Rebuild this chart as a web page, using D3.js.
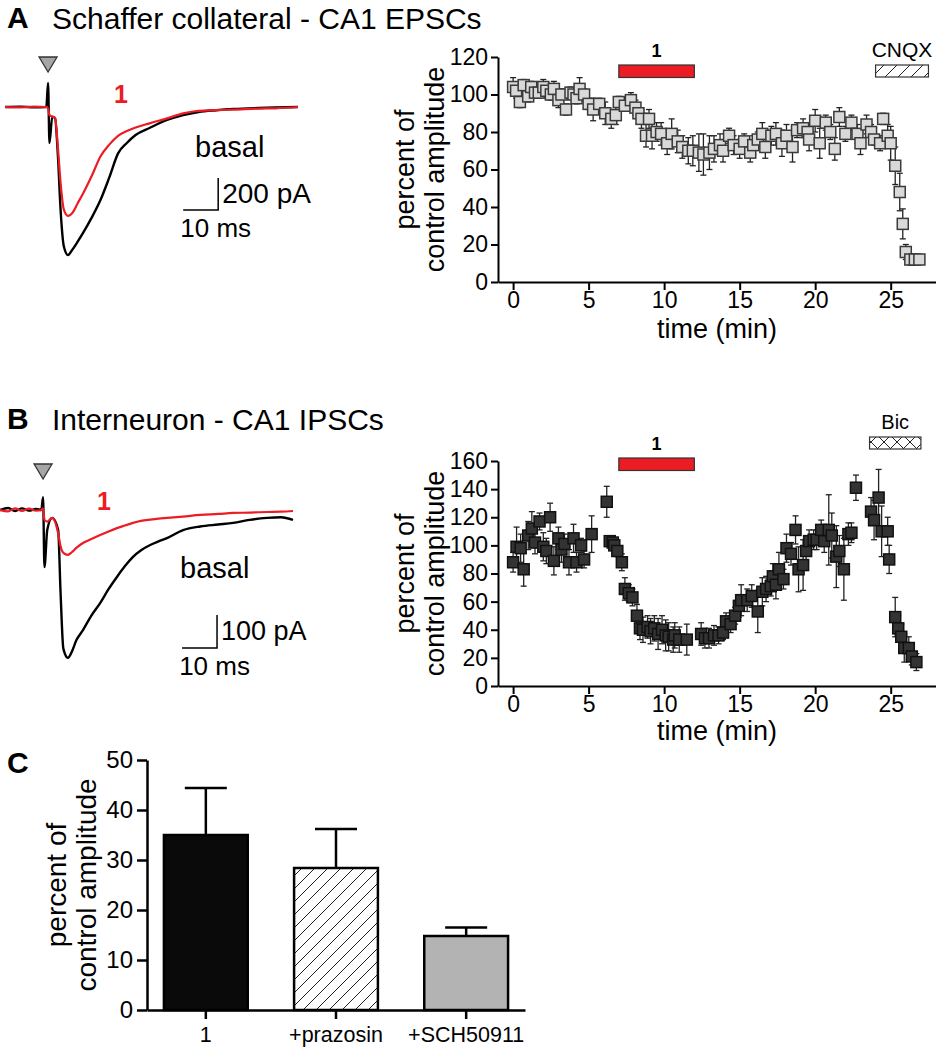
<!DOCTYPE html>
<html><head><meta charset="utf-8">
<script src="https://cdn.jsdelivr.net/npm/d3@7/dist/d3.min.js"></script>
<style>
body{margin:0;background:#fff}
svg{display:block}
text{font-family:"Liberation Sans",Arial,Helvetica,sans-serif}
</style>
</head><body>
<svg id="fig" width="936" height="1050"></svg>
<script>
// ---------------- DATA ----------------
// Panel A time course (min, % of control, error)
const timeA = [0.0,0.2,0.45,0.7,1.0,1.2,1.45,1.7,2.0,2.2,2.5,2.7,3.0,3.2,3.5,3.8,4.0,4.2,4.4,4.7,5.0,5.3,5.7,6.1,6.5,6.8,7.0,7.4,7.8,8.1,8.3,8.5,8.8,9.0,9.2,9.5,9.8,10.2,10.5,10.9,11.2,11.6,11.9,12.3,12.6,13.0,13.3,13.7,13.9,14.3,14.6,15.0,15.3,15.7,15.9,16.2,16.5,16.7,17.1,17.4,17.8,18.1,18.5,18.8,19.2,19.5,19.6,20.0,20.3,20.7,21.0,21.3,21.6,22.0,22.4,22.8,23.0,23.4,23.7,23.9,24.3,24.5,24.8,25.0,25.3,25.6,25.8,26.0,26.3,26.6,26.9];
const pctA  = [104,102,96,105,99,104,101,101,104,102,100,103,97,100,92,101,100,98,103,100,95,92,95,90,87,89,96,94,97,93,90,87,78,87,78,80,79,74,79,75,72,70,70,69,68,69,71,73,70,78,73,71,75,69,73,76,79,72,78,79,74,78,72,81,82,80,76,86,74,85,80,71,88,79,85,79,74,84,80,76,74,87,78,74,62,48,31,16,12,12,12];
const errA  = [5,4,3,3,3,3,3,3,4,3,3,4,4,3,3,3,3,3,6,3,3,6,3,6,5,5,3,3,4,4,3,5,6,5,7,5,6,6,8,6,6,7,8,10,11,9,7,6,6,4,5,5,4,5,5,4,6,6,5,6,7,6,8,4,5,4,6,6,8,4,4,6,5,4,4,5,6,5,4,3,4,3,6,9,10,10,8,4,3,3,2];

// Panel B time course
const timeB = [0.0,0.23,0.5,0.7,1.0,1.24,1.45,1.75,2.0,2.2,2.45,2.7,3.0,3.2,3.4,3.7,4.0,4.2,4.5,4.7,5.2,6.2,6.4,6.6,6.7,6.9,7.2,7.4,7.66,7.9,8.2,8.4,8.6,8.9,9.1,9.35,9.6,9.86,10.1,10.3,10.6,10.7,11.0,11.5,12.45,12.7,12.97,13.3,13.6,13.9,14.1,14.4,14.7,14.95,15.1,15.5,15.8,16.2,16.5,16.75,17.06,17.2,17.4,17.6,17.9,18.1,18.4,18.7,18.9,19.2,19.4,19.6,19.9,20.1,20.4,20.6,20.9,21.1,21.4,21.6,21.9,22.2,22.4,22.7,23.7,23.9,24.2,24.4,24.8,24.9,25.3,25.5,25.7,25.9,26.2,26.4,26.7];
const pctB  = [88,99,98,83,107,112,102,117,99,96,120,89,105,97,101,88,105,88,100,90,108,131,103,102,100,96,88,69,66,63,50,41,40,42,39,41,37,40,36,35,33,36,33,33,37,34,34,36,36,38,46,44,50,57,61,61,64,53,67,69,71,78,72,83,76,98,94,111,83,86,96,103,104,104,111,103,111,107,92,96,83,108,109,141,124,118,134,110,110,90,49,41,35,27,27,21,17];
const errB  = [7,14,10,12,10,12,8,6,10,9,10,10,8,9,7,9,10,7,5,6,13,11,3,3,3,4,6,8,6,6,8,8,9,8,9,9,11,10,11,10,9,9,9,11,8,7,7,7,6,5,6,6,6,8,11,8,8,15,10,9,7,9,10,12,7,10,8,10,16,18,8,8,7,7,7,8,25,16,22,11,22,8,7,9,10,14,20,18,10,10,14,9,9,10,8,6,6];

// Treatment bars (min)
const drugBar = [7, 12];
const cnqxBar = [24, 27.5];
const bicBar  = [23.6, 27.0];

// Panel A traces (ms, pA)
const traceAms    = [-12.3,-8,-4,-0.5,0,0.4,1.2,2.0,2.8,3.6,4.5,5.7,7,8.5,10,12.5,15,17.5,20,22.5,25,29,34,38.6,43,48,53,60,65,71.4];
const traceAbasal = [0,2,-2,0,150,-225,-60,-69,-300,-650,-870,-925,-890,-840,-787,-690,-580,-440,-290,-225,-175,-131,-81,-50,-31,-20,-12,-6,-3,0];
const traceAdrug  = [0,-2,2,0,-10,-50,-60,-69,-250,-480,-640,-681,-660,-600,-540,-430,-308,-235,-180,-150,-128,-102,-71,-40,-24,-20,-17,-10,-8,0];
const scaleBarA   = {ms:[38.6,48.6], pA:[-644,-444]};

// Panel B traces (ms, pA)
const traceBms    = [-12.3,-10,-8,-6,-4,-2,-0.5,0,0.4,1.2,2.6,4.3,5.0,5.8,7.1,8.2,9.5,11.4,13.8,16.3,18.7,21.1,23.4,25.7,28,30.6,33,35.4,40,44.9,50,54.3,59,64,68,71.4];
const traceBbasal = [0,6,-3,5,-2,3,0,39,-173,-60,-24,-60,-250,-420,-448,-430,-395,-364,-320,-282,-240,-203,-170,-142,-122,-106,-95,-85,-61,-50,-44,-39,-30,-24,-22,-30];
const traceBdrug  = [0,-4,5,-3,4,-2,0,5,-30,-35,-24,-70,-110,-130,-136,-128,-115,-100,-88,-76,-65,-55,-47,-39,-33,-29,-26,-24,-20,-15,-12,-9,-8,-6,-5,-3];
const scaleBarB   = {ms:[39.7,49.7], pA:[-418,-318]};

// Panel C
const catsC = ["1","+prazosin","+SCH50911"];
const meanC = [35, 28.4, 14.8];
const semC  = [9.4, 7.8, 1.7];

// Tick values
const xTicksMajor = [0,5,10,15,20,25];
const xTicksMinor = [0,1,2,3,4,5,6,7,8,9,10,11,12,13,14,15,16,17,18,19,20,21,22,23,24,25,26,27];
const yTicksA = [0,20,40,60,80,100,120];
const yTicksAminor = [10,30,50,70,90,110];
const yTicksB = [0,20,40,60,80,100,120,140,160];
const yTicksBminor = [10,30,50,70,90,110,130,150];
const yTicksC = [0,10,20,30,40,50];
const yTicksCminor = [5,15,25,35,45];

// ---------------- DRAW ----------------
const RED = "#ec1c24";
const svg = d3.select("#fig");
const defs = svg.append("defs");
const diag = defs.append("pattern").attr("id","diag").attr("patternUnits","userSpaceOnUse").attr("width",13).attr("height",13);
diag.append("rect").attr("width",13).attr("height",13).attr("fill","#fff");
diag.append("path").attr("d","M-2,2 L2,-2 M0,13 L13,0 M11,15 L15,11").attr("stroke","#222").attr("stroke-width",1);
const cross = defs.append("pattern").attr("id","cross").attr("patternUnits","userSpaceOnUse").attr("width",13).attr("height",13);
cross.append("rect").attr("width",13).attr("height",13).attr("fill","#fff");
cross.append("path").attr("d","M0,0 L13,13 M0,13 L13,0").attr("stroke","#222").attr("stroke-width",1);

function styleAxis(g, fs){
  g.selectAll("path.domain").attr("stroke","#000").attr("stroke-width",2);
  g.selectAll(".tick line").attr("stroke","#000").attr("stroke-width",2);
  g.selectAll(".tick text").attr("fill","#000").style("font-size",fs+"px").style("font-family",'"Liberation Sans",Arial,sans-serif');
}

function scatterPanel(o){
  const x = d3.scaleLinear().domain([-1,28]).range([498,936]);
  const y = d3.scaleLinear().domain(o.ydom).range(o.yrange);
  const g = svg.append("g");
  const gx = g.append("g").attr("transform",`translate(0,${o.yrange[0]})`);
  gx.call(d3.axisBottom(x).tickValues(xTicksMinor).tickSize(4).tickSizeOuter(0).tickFormat(""));
  gx.call(d3.axisBottom(x).tickValues(xTicksMajor).tickSize(8).tickPadding(2).tickSizeOuter(0));
  styleAxis(gx,23);
  const gy = g.append("g").attr("transform","translate(498,0)");
  gy.call(d3.axisLeft(y).tickValues(o.yminor).tickSize(4).tickSizeOuter(0).tickFormat(""));
  gy.call(d3.axisLeft(y).tickValues(o.ymajor).tickSize(7).tickPadding(3).tickSizeOuter(0));
  styleAxis(gy,23);
  g.append("text").attr("x",717).attr("y",o.xlabY).attr("text-anchor","middle").style("font-size","27px").text("time (min)");
  const cy = (o.yrange[0]+o.yrange[1])/2;
  g.append("text").attr("transform",`translate(414,${cy}) rotate(-90)`).attr("text-anchor","middle").style("font-size","27px").text("percent of");
  g.append("text").attr("transform",`translate(444,${cy}) rotate(-90)`).attr("text-anchor","middle").style("font-size","27px").text("control amplitude");
  g.append("rect").attr("x",x(drugBar[0])).attr("y",o.redY).attr("width",x(drugBar[1])-x(drugBar[0])).attr("height",12.5)
    .attr("fill",RED).attr("stroke","#333").attr("stroke-width",1.2);
  g.append("text").attr("x",(x(drugBar[0])+x(drugBar[1]))/2).attr("y",o.redY-8).attr("text-anchor","middle")
    .style("font-size","18px").style("font-weight","bold").text("1");
  g.append("rect").attr("x",x(o.ant[0])).attr("y",o.antY).attr("width",x(o.ant[1])-x(o.ant[0])).attr("height",12)
    .attr("fill",`url(#${o.antPat})`).attr("stroke","#333").attr("stroke-width",1.2);
  g.append("text").attr("x",(x(o.ant[0])+x(o.ant[1]))/2).attr("y",o.antY-8).attr("text-anchor","middle")
    .style("font-size",o.antFs+"px").text(o.antLabel);
  const data = o.t.map((t,i)=>({t, v:o.v[i], e:o.e[i]}));
  const eb = g.append("g").attr("stroke","#222").attr("stroke-width",1.3);
  eb.selectAll("line.v").data(data).join("line").attr("class","v")
    .attr("x1",d=>x(d.t)).attr("x2",d=>x(d.t)).attr("y1",d=>y(d.v-d.e)).attr("y2",d=>y(d.v+d.e));
  eb.selectAll("line.t").data(data).join("line").attr("class","t")
    .attr("x1",d=>x(d.t)-3).attr("x2",d=>x(d.t)+3).attr("y1",d=>y(d.v+d.e)).attr("y2",d=>y(d.v+d.e));
  eb.selectAll("line.b").data(data).join("line").attr("class","b")
    .attr("x1",d=>x(d.t)-3).attr("x2",d=>x(d.t)+3).attr("y1",d=>y(d.v-d.e)).attr("y2",d=>y(d.v-d.e));
  g.append("g").selectAll("rect").data(data).join("rect")
    .attr("x",d=>x(d.t)-5.5).attr("y",d=>y(d.v)-5.5).attr("width",11).attr("height",11)
    .attr("fill",o.fill).attr("stroke",o.stroke).attr("stroke-width",1.5);
}

scatterPanel({t:timeA,v:pctA,e:errA,ydom:[0,120],yrange:[282,57],ymajor:yTicksA,yminor:yTicksAminor,
  xlabY:338,redY:65,ant:cnqxBar,antY:65,antPat:"diag",antLabel:"CNQX",antFs:21,fill:"#d9d9d9",stroke:"#3a3a3a"});
scatterPanel({t:timeB,v:pctB,e:errB,ydom:[0,160],yrange:[686,461],ymajor:yTicksB,yminor:yTicksBminor,
  xlabY:740,redY:458,ant:bicBar,antY:437,antPat:"cross",antLabel:"Bic",antFs:20,fill:"#333333",stroke:"#111"});

function tracePanel(o){
  const tx = d3.scaleLinear().domain([-12.3,71.4]).range(o.xr);
  const ty = d3.scaleLinear().domain([0,-100]).range([o.y0,o.y0+o.pxPer100]);
  const g = svg.append("g");
  const line = d3.line().x(d=>tx(d[0])).y(d=>ty(d[1])).curve(d3.curveMonotoneX);
  g.append("path").attr("d",line(o.t.map((t,i)=>[t,o.basal[i]]))).attr("fill","none").attr("stroke","#000").attr("stroke-width",2.4);
  g.append("path").attr("d",line(o.t.map((t,i)=>[t,o.drug[i]]))).attr("fill","none").attr("stroke",RED).attr("stroke-width",2.2);
  const cx = tx(0);
  g.append("path").attr("d",`M${cx-9},${o.triY} L${cx+9},${o.triY} L${cx},${o.triY+15} Z`)
    .attr("fill","#a6a6a6").attr("stroke","#333").attr("stroke-width",1.3);
  const sb = o.sb;
  g.append("path").attr("d",`M${tx(sb.ms[0])},${ty(sb.pA[0])} L${tx(sb.ms[1])},${ty(sb.pA[0])} L${tx(sb.ms[1])},${ty(sb.pA[1])}`)
    .attr("fill","none").attr("stroke","#000").attr("stroke-width",1.5);
  g.append("text").attr("x",tx(sb.ms[1])+4).attr("y",ty((sb.pA[0]+sb.pA[1])/2)+9).style("font-size",o.pAfs+"px").text(o.pAlabel);
  g.append("text").attr("x",(tx(sb.ms[0])+tx(sb.ms[1]))/2+15).attr("y",ty(sb.pA[0])+27).attr("text-anchor","middle").style("font-size","26px").text("10 ms");
  g.append("text").attr("x",o.basalXY[0]).attr("y",o.basalXY[1]).style("font-size","29px").text("basal");
  g.append("text").attr("x",o.oneXY[0]).attr("y",o.oneXY[1]).attr("fill",RED).style("font-size","25px").style("font-weight","bold").text("1");
}
tracePanel({t:traceAms,basal:traceAbasal,drug:traceAdrug,xr:[5,298],y0:107,pxPer100:16,triY:57,sb:scaleBarA,pAlabel:"200 pA",pAfs:28,
  basalXY:[195,157],oneXY:[114,103]});
tracePanel({t:traceBms,basal:traceBbasal,drug:traceBdrug,xr:[0,293],y0:510,pxPer100:33,triY:464,sb:scaleBarB,pAlabel:"100 pA",pAfs:27,
  basalXY:[180,578],oneXY:[97,510]});

function title(letter,txt,y){
  svg.append("text").attr("x",7).attr("y",y).style("font-size","30px").style("font-weight","bold").text(letter);
  if(txt) svg.append("text").attr("x",52).attr("y",y+1).style("font-size","30px").text(txt);
}
title("A","Schaffer collateral - CA1 EPSCs",28);
title("B","Interneuron - CA1 IPSCs",429);
title("C","",773);

{
  const x = d3.scaleBand().domain(catsC).range([147,525]).paddingInner(0.356).paddingOuter(0.13);
  const y = d3.scaleLinear().domain([0,50]).range([1010,760]);
  const g = svg.append("g");
  const fills = ["#0a0a0a","url(#diag)","#b3b3b3"];
  const data = catsC.map((c,i)=>({c,m:meanC[i],s:semC[i],f:fills[i]}));
  const eb = g.append("g").attr("stroke","#000").attr("stroke-width",2.5);
  eb.selectAll("line.v").data(data).join("line").attr("class","v")
    .attr("x1",d=>x(d.c)+x.bandwidth()/2).attr("x2",d=>x(d.c)+x.bandwidth()/2).attr("y1",d=>y(d.m)).attr("y2",d=>y(d.m+d.s));
  eb.selectAll("line.c").data(data).join("line").attr("class","c")
    .attr("x1",d=>x(d.c)+x.bandwidth()/2-21).attr("x2",d=>x(d.c)+x.bandwidth()/2+21).attr("y1",d=>y(d.m+d.s)).attr("y2",d=>y(d.m+d.s));
  g.selectAll("rect.bar").data(data).join("rect").attr("class","bar")
    .attr("x",d=>x(d.c)).attr("y",d=>y(d.m)).attr("width",x.bandwidth()).attr("height",d=>y(0)-y(d.m))
    .attr("fill",d=>d.f).attr("stroke","#000").attr("stroke-width",2.5);
  const gx = g.append("g").attr("transform","translate(0,1010)");
  gx.call(d3.axisBottom(x).tickSize(9).tickPadding(8).tickSizeOuter(0));
  styleAxis(gx,21.5);
  gx.selectAll("path.domain,.tick line").attr("stroke-width",2.5);
  const gy = g.append("g").attr("transform","translate(147,0)");
  gy.call(d3.axisLeft(y).tickValues(yTicksCminor).tickSize(6).tickSizeOuter(0).tickFormat(""));
  gy.call(d3.axisLeft(y).tickValues(yTicksC).tickSize(10).tickPadding(4).tickSizeOuter(0));
  styleAxis(gy,24);
  gy.selectAll("path.domain,.tick line").attr("stroke-width",2.5);
  g.append("text").attr("transform","translate(66,885) rotate(-90)").attr("text-anchor","middle").style("font-size","28px").text("percent of");
  g.append("text").attr("transform","translate(96,885) rotate(-90)").attr("text-anchor","middle").style("font-size","28px").text("control amplitude");
}
</script>
</body></html>
